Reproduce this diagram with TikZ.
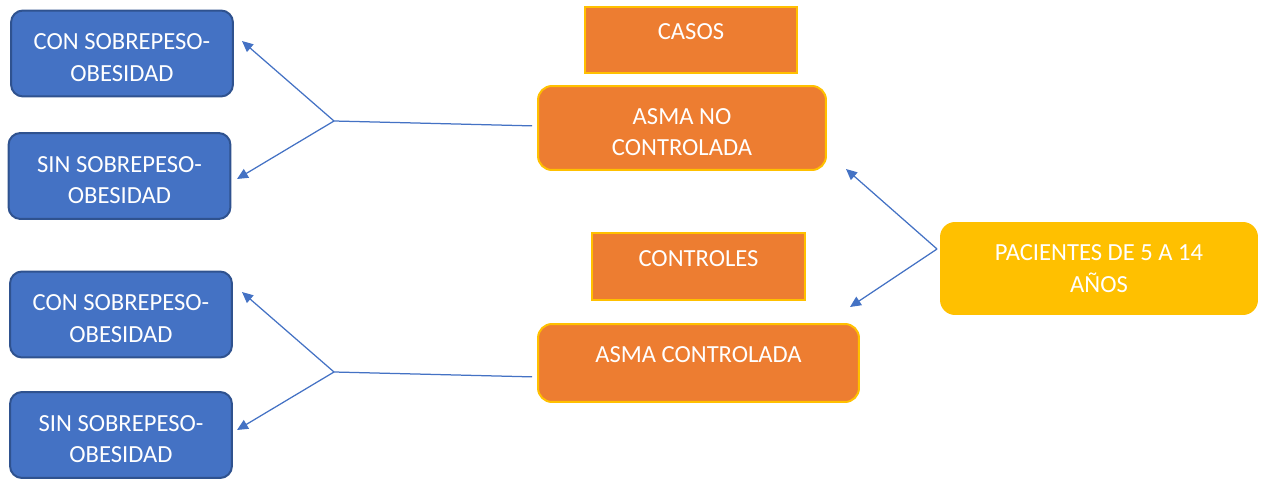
\documentclass[tikz,border=0pt]{standalone}
\usepackage{fontspec}
\setmainfont{Carlito}
\usetikzlibrary{arrows.meta}

\definecolor{azul}{HTML}{4472C4}
\definecolor{azulborde}{HTML}{2F528F}
\definecolor{naranja}{HTML}{ED7D31}
\definecolor{amarillo}{HTML}{FFC000}

\begin{document}
\begin{tikzpicture}[x=0.02cm, y=-0.02cm,
    every node/.style={font=\fontsize{14}{18}\selectfont,
        text=white, align=center},
    grupo/.style={draw=azulborde, fill=azul, line width=0.04cm,
        rounded corners=0.24cm, minimum width=4.44cm,
        minimum height=1.72cm, text height=1.11cm},
    asma/.style={draw=amarillo, fill=naranja, line width=0.04cm,
        rounded corners=0.28cm},
    rotulo/.style={draw=amarillo, fill=naranja, line width=0.04cm,
        minimum width=4.26cm, text height=0.6cm, text depth=0.6cm,
        inner ysep=0.07cm},
    linea/.style={draw=azul, line width=0.025cm},
    flecha/.style={linea, -{Triangle[length=0.22cm, width=0.2cm]}}]
    \useasboundingbox (0,0) rectangle (1261,479);

    % Grupos izquierda
    \node[grupo] (conA) at (122,53.5)
        {CON SOBREPESO-\\OBESIDAD};
    \node[grupo] (sinA) at (119.5,176)
        {SIN SOBREPESO-\\OBESIDAD};
    \node[grupo] (conB) at (121,314.5)
        {CON SOBREPESO-\\OBESIDAD};
    \node[grupo] (sinB) at (121,435)
        {SIN SOBREPESO-\\OBESIDAD};

    % Casos y controles
    \node[rotulo] (casos) at (691,40) {CASOS};
    \node[asma, minimum width=5.76cm, minimum height=1.68cm,
        text height=1.11cm]
        (asmaNo) at (682,128) {ASMA NO\\CONTROLADA};
    \node[rotulo] (controles) at (698.5,266.5) {CONTROLES};
    \node[asma, minimum width=6.42cm, text height=0.72cm,
        text depth=0.72cm, inner ysep=0.06cm]
        (asmaSi) at (698.5,363) {ASMA CONTROLADA};

    % Pacientes
    \node[fill=amarillo, rounded corners=0.3cm,
        minimum width=6.36cm, minimum height=1.86cm]
        (pacientes) at (1099,268.5) {PACIENTES DE 5 A 14\\AÑOS};

    % Bifurcaciones
    \coordinate (jA) at (334,121);
    \coordinate (jB) at (334,372);
    \coordinate (jC) at (937,249);
    \coordinate (tA1) at (242,41);
    \coordinate (tA2) at (237,179);
    \coordinate (tB1) at (242,292);
    \coordinate (tB2) at (237,430);
    \coordinate (tC1) at (846,169);
    \coordinate (tC2) at (850,307);

    \draw[linea, shorten <=0.1cm]
        ([yshift=0.04cm]asmaNo.west) -- (jA);
    \draw[flecha] (jA) -- (tA1);
    \draw[flecha] (jA) -- (tA2);
    %
    \draw[linea, shorten <=0.1cm]
        ([yshift=-0.28cm]asmaSi.west) -- (jB);
    \draw[flecha] (jB) -- (tB1);
    \draw[flecha] (jB) -- (tB2);
    %
    \draw[flecha] (jC) -- (tC1);
    \draw[flecha] (jC) -- (tC2);

\end{tikzpicture}
\end{document}
